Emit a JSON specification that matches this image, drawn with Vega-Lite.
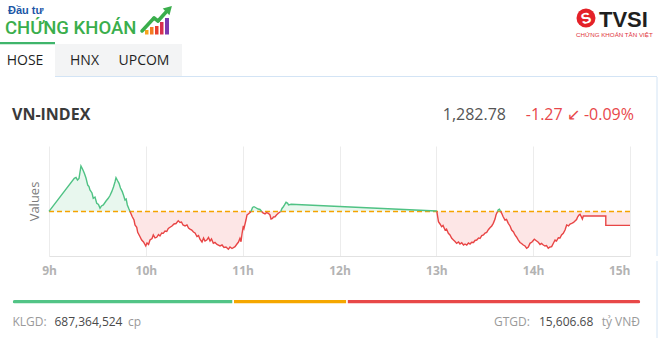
{
  "$schema": "https://vega.github.io/schema/vega-lite/v6.json",
  "padding": 0,
  "autosize": {"type": "pad"},
  "background": "white",
  "spacing": 0,
  "bounds": "flush",
  "data": {"values": [{}]},
  "config": {"view": {"stroke": null}, "text": {"font": "Open Sans"}},
  "datasets": {
    "series": [
      {"t":9.000,"v":1284.05,"s":1,"d":"up"},{"t":9.261,"v":1287.06,"s":1,"d":"up"},{"t":9.279,"v":1287.14,"s":1,"d":"up"},{"t":9.294,"v":1286.91,"s":1,"d":"up"},{"t":9.310,"v":1287.05,"s":1,"d":"up"},{"t":9.330,"v":1288.18,"s":1,"d":"up"},{"t":9.346,"v":1287.91,"s":1,"d":"up"},{"t":9.365,"v":1287.52,"s":1,"d":"up"},{"t":9.382,"v":1287.09,"s":1,"d":"up"},{"t":9.400,"v":1286.45,"s":1,"d":"up"},{"t":9.413,"v":1286.32,"s":1,"d":"up"},{"t":9.423,"v":1286.00,"s":1,"d":"up"},{"t":9.444,"v":1285.73,"s":1,"d":"up"},{"t":9.457,"v":1285.25,"s":1,"d":"up"},{"t":9.475,"v":1285.36,"s":1,"d":"up"},{"t":9.493,"v":1284.79,"s":1,"d":"up"},{"t":9.511,"v":1284.68,"s":1,"d":"up"},{"t":9.527,"v":1284.34,"s":1,"d":"up"},{"t":9.542,"v":1284.55,"s":1,"d":"up"},{"t":9.561,"v":1284.64,"s":1,"d":"up"},{"t":9.589,"v":1285.00,"s":1,"d":"up"},{"t":9.612,"v":1285.25,"s":1,"d":"up"},{"t":9.630,"v":1285.50,"s":1,"d":"up"},{"t":9.648,"v":1285.85,"s":1,"d":"up"},{"t":9.666,"v":1286.27,"s":1,"d":"up"},{"t":9.682,"v":1286.75,"s":1,"d":"up"},{"t":9.692,"v":1287.12,"s":1,"d":"up"},{"t":9.707,"v":1286.86,"s":1,"d":"up"},{"t":9.723,"v":1286.61,"s":1,"d":"up"},{"t":9.738,"v":1286.18,"s":1,"d":"up"},{"t":9.757,"v":1285.85,"s":1,"d":"up"},{"t":9.769,"v":1285.55,"s":1,"d":"up"},{"t":9.785,"v":1285.09,"s":1,"d":"up"},{"t":9.797,"v":1285.18,"s":1,"d":"up"},{"t":9.809,"v":1284.64,"s":1,"d":"up"},{"t":9.826,"v":1284.27,"s":1,"d":"up"},{"t":9.837,"v":1284.05,"s":1,"d":"up"},
      {"t":9.837,"v":1284.05,"s":2,"d":"down"},{"t":9.860,"v":1283.57,"s":2,"d":"down"},{"t":9.878,"v":1283.27,"s":2,"d":"down"},{"t":9.888,"v":1282.82,"s":2,"d":"down"},{"t":9.906,"v":1282.61,"s":2,"d":"down"},{"t":9.916,"v":1282.15,"s":2,"d":"down"},{"t":9.940,"v":1281.75,"s":2,"d":"down"},{"t":9.957,"v":1281.45,"s":2,"d":"down"},{"t":9.976,"v":1281.27,"s":2,"d":"down"},{"t":9.999,"v":1280.91,"s":2,"d":"down"},{"t":10.012,"v":1281.18,"s":2,"d":"down"},{"t":10.028,"v":1281.05,"s":2,"d":"down"},{"t":10.043,"v":1281.45,"s":2,"d":"down"},{"t":10.064,"v":1281.59,"s":2,"d":"down"},{"t":10.077,"v":1281.91,"s":2,"d":"down"},{"t":10.095,"v":1281.64,"s":2,"d":"down"},{"t":10.112,"v":1281.70,"s":2,"d":"down"},{"t":10.131,"v":1281.95,"s":2,"d":"down"},{"t":10.146,"v":1281.82,"s":2,"d":"down"},{"t":10.164,"v":1282.09,"s":2,"d":"down"},{"t":10.180,"v":1282.06,"s":2,"d":"down"},{"t":10.198,"v":1282.27,"s":2,"d":"down"},{"t":10.216,"v":1282.23,"s":2,"d":"down"},{"t":10.232,"v":1282.50,"s":2,"d":"down"},{"t":10.250,"v":1282.61,"s":2,"d":"down"},{"t":10.270,"v":1282.73,"s":2,"d":"down"},{"t":10.291,"v":1282.91,"s":2,"d":"down"},{"t":10.312,"v":1282.95,"s":2,"d":"down"},{"t":10.335,"v":1283.21,"s":2,"d":"down"},{"t":10.353,"v":1283.05,"s":2,"d":"down"},{"t":10.368,"v":1283.09,"s":2,"d":"down"},{"t":10.384,"v":1282.82,"s":2,"d":"down"},{"t":10.405,"v":1282.73,"s":2,"d":"down"},{"t":10.425,"v":1282.82,"s":2,"d":"down"},{"t":10.441,"v":1282.55,"s":2,"d":"down"},{"t":10.456,"v":1282.45,"s":2,"d":"down"},{"t":10.474,"v":1282.36,"s":2,"d":"down"},{"t":10.492,"v":1282.18,"s":2,"d":"down"},{"t":10.508,"v":1282.09,"s":2,"d":"down"},{"t":10.528,"v":1281.77,"s":2,"d":"down"},{"t":10.544,"v":1281.86,"s":2,"d":"down"},{"t":10.559,"v":1281.52,"s":2,"d":"down"},{"t":10.580,"v":1281.27,"s":2,"d":"down"},{"t":10.596,"v":1281.64,"s":2,"d":"down"},{"t":10.611,"v":1281.36,"s":2,"d":"down"},{"t":10.629,"v":1281.45,"s":2,"d":"down"},{"t":10.647,"v":1281.68,"s":2,"d":"down"},{"t":10.663,"v":1281.36,"s":2,"d":"down"},{"t":10.678,"v":1281.55,"s":2,"d":"down"},{"t":10.697,"v":1281.15,"s":2,"d":"down"},{"t":10.714,"v":1281.23,"s":2,"d":"down"},{"t":10.735,"v":1281.05,"s":2,"d":"down"},{"t":10.766,"v":1280.91,"s":2,"d":"down"},{"t":10.787,"v":1281.00,"s":2,"d":"down"},{"t":10.807,"v":1280.77,"s":2,"d":"down"},{"t":10.828,"v":1280.82,"s":2,"d":"down"},{"t":10.852,"v":1280.61,"s":2,"d":"down"},{"t":10.869,"v":1280.82,"s":2,"d":"down"},{"t":10.890,"v":1280.68,"s":2,"d":"down"},{"t":10.921,"v":1280.85,"s":2,"d":"down"},{"t":10.941,"v":1281.09,"s":2,"d":"down"},{"t":10.957,"v":1281.27,"s":2,"d":"down"},{"t":10.972,"v":1281.61,"s":2,"d":"down"},{"t":10.983,"v":1281.30,"s":2,"d":"down"},{"t":10.993,"v":1282.00,"s":2,"d":"down"},{"t":11.007,"v":1282.73,"s":2,"d":"down"},{"t":11.014,"v":1282.52,"s":2,"d":"down"},{"t":11.034,"v":1283.27,"s":2,"d":"down"},{"t":11.045,"v":1283.73,"s":2,"d":"down"},{"t":11.058,"v":1283.82,"s":2,"d":"down"},{"t":11.076,"v":1283.95,"s":2,"d":"down"},{"t":11.086,"v":1284.05,"s":2,"d":"down"},
      {"t":11.086,"v":1284.05,"s":3,"d":"up"},{"t":11.102,"v":1284.41,"s":3,"d":"up"},{"t":11.117,"v":1284.48,"s":3,"d":"up"},{"t":11.133,"v":1284.41,"s":3,"d":"up"},{"t":11.148,"v":1284.32,"s":3,"d":"up"},{"t":11.161,"v":1284.27,"s":3,"d":"up"},{"t":11.179,"v":1284.23,"s":3,"d":"up"},{"t":11.197,"v":1284.05,"s":3,"d":"up"},
      {"t":11.197,"v":1284.05,"s":4,"d":"down"},{"t":11.210,"v":1283.91,"s":4,"d":"down"},{"t":11.231,"v":1283.82,"s":4,"d":"down"},{"t":11.246,"v":1283.95,"s":4,"d":"down"},{"t":11.265,"v":1283.88,"s":4,"d":"down"},{"t":11.282,"v":1283.73,"s":4,"d":"down"},{"t":11.293,"v":1283.36,"s":4,"d":"down"},{"t":11.308,"v":1283.41,"s":4,"d":"down"},{"t":11.318,"v":1283.55,"s":4,"d":"down"},{"t":11.334,"v":1283.57,"s":4,"d":"down"},{"t":11.349,"v":1283.73,"s":4,"d":"down"},{"t":11.368,"v":1283.88,"s":4,"d":"down"},{"t":11.393,"v":1284.05,"s":4,"d":"down"},
      {"t":11.393,"v":1284.05,"s":5,"d":"up"},{"t":11.406,"v":1284.32,"s":5,"d":"up"},{"t":11.420,"v":1284.48,"s":5,"d":"up"},{"t":11.432,"v":1284.64,"s":5,"d":"up"},{"t":11.448,"v":1284.88,"s":5,"d":"up"},{"t":11.465,"v":1284.79,"s":5,"d":"up"},{"t":11.473,"v":1284.64,"s":5,"d":"up"},{"t":11.500,"v":1284.70,"s":5,"d":"up"},{"t":13.000,"v":1284.09,"s":5,"d":"up"},{"t":13.005,"v":1284.05,"s":5,"d":"up"},
      {"t":13.005,"v":1284.05,"s":6,"d":"down"},{"t":13.022,"v":1283.12,"s":6,"d":"down"},{"t":13.038,"v":1282.91,"s":6,"d":"down"},{"t":13.055,"v":1282.66,"s":6,"d":"down"},{"t":13.069,"v":1282.77,"s":6,"d":"down"},{"t":13.090,"v":1282.36,"s":6,"d":"down"},{"t":13.105,"v":1282.45,"s":6,"d":"down"},{"t":13.124,"v":1282.06,"s":6,"d":"down"},{"t":13.141,"v":1281.91,"s":6,"d":"down"},{"t":13.159,"v":1281.61,"s":6,"d":"down"},{"t":13.177,"v":1281.45,"s":6,"d":"down"},{"t":13.193,"v":1281.32,"s":6,"d":"down"},{"t":13.210,"v":1281.15,"s":6,"d":"down"},{"t":13.229,"v":1281.27,"s":6,"d":"down"},{"t":13.244,"v":1281.09,"s":6,"d":"down"},{"t":13.262,"v":1281.21,"s":6,"d":"down"},{"t":13.281,"v":1281.00,"s":6,"d":"down"},{"t":13.296,"v":1281.09,"s":6,"d":"down"},{"t":13.314,"v":1281.00,"s":6,"d":"down"},{"t":13.332,"v":1281.18,"s":6,"d":"down"},{"t":13.348,"v":1281.09,"s":6,"d":"down"},{"t":13.365,"v":1281.25,"s":6,"d":"down"},{"t":13.384,"v":1281.23,"s":6,"d":"down"},{"t":13.399,"v":1281.41,"s":6,"d":"down"},{"t":13.417,"v":1281.45,"s":6,"d":"down"},{"t":13.436,"v":1281.64,"s":6,"d":"down"},{"t":13.451,"v":1281.59,"s":6,"d":"down"},{"t":13.469,"v":1281.85,"s":6,"d":"down"},{"t":13.487,"v":1281.91,"s":6,"d":"down"},{"t":13.503,"v":1282.09,"s":6,"d":"down"},{"t":13.520,"v":1282.15,"s":6,"d":"down"},{"t":13.539,"v":1282.41,"s":6,"d":"down"},{"t":13.554,"v":1282.57,"s":6,"d":"down"},{"t":13.572,"v":1282.73,"s":6,"d":"down"},{"t":13.588,"v":1282.97,"s":6,"d":"down"},{"t":13.606,"v":1283.36,"s":6,"d":"down"},{"t":13.616,"v":1283.73,"s":6,"d":"down"},{"t":13.632,"v":1284.05,"s":6,"d":"down"},
      {"t":13.632,"v":1284.05,"s":7,"d":"up"},{"t":13.640,"v":1284.21,"s":7,"d":"up"},{"t":13.652,"v":1284.25,"s":7,"d":"up"},{"t":13.663,"v":1284.05,"s":7,"d":"up"},
      {"t":13.663,"v":1284.05,"s":8,"d":"down"},{"t":13.675,"v":1283.88,"s":8,"d":"down"},{"t":13.689,"v":1283.59,"s":8,"d":"down"},{"t":13.709,"v":1283.27,"s":8,"d":"down"},{"t":13.725,"v":1283.32,"s":8,"d":"down"},{"t":13.743,"v":1282.97,"s":8,"d":"down"},{"t":13.761,"v":1282.73,"s":8,"d":"down"},{"t":13.778,"v":1282.36,"s":8,"d":"down"},{"t":13.797,"v":1282.18,"s":8,"d":"down"},{"t":13.812,"v":1281.91,"s":8,"d":"down"},{"t":13.828,"v":1281.73,"s":8,"d":"down"},{"t":13.847,"v":1281.45,"s":8,"d":"down"},{"t":13.864,"v":1281.23,"s":8,"d":"down"},{"t":13.880,"v":1281.14,"s":8,"d":"down"},{"t":13.898,"v":1281.00,"s":8,"d":"down"},{"t":13.916,"v":1280.91,"s":8,"d":"down"},{"t":13.933,"v":1280.70,"s":8,"d":"down"},{"t":13.950,"v":1280.82,"s":8,"d":"down"},{"t":13.967,"v":1281.15,"s":8,"d":"down"},{"t":13.988,"v":1281.27,"s":8,"d":"down"},{"t":14.012,"v":1281.52,"s":8,"d":"down"},{"t":14.029,"v":1281.41,"s":8,"d":"down"},{"t":14.053,"v":1281.25,"s":8,"d":"down"},{"t":14.071,"v":1281.05,"s":8,"d":"down"},{"t":14.086,"v":1281.14,"s":8,"d":"down"},{"t":14.105,"v":1281.00,"s":8,"d":"down"},{"t":14.122,"v":1280.91,"s":8,"d":"down"},{"t":14.138,"v":1280.95,"s":8,"d":"down"},{"t":14.156,"v":1280.70,"s":8,"d":"down"},{"t":14.174,"v":1280.82,"s":8,"d":"down"},{"t":14.191,"v":1280.85,"s":8,"d":"down"},{"t":14.210,"v":1281.18,"s":8,"d":"down"},{"t":14.226,"v":1281.45,"s":8,"d":"down"},{"t":14.241,"v":1281.36,"s":8,"d":"down"},{"t":14.260,"v":1281.66,"s":8,"d":"down"},{"t":14.277,"v":1281.64,"s":8,"d":"down"},{"t":14.293,"v":1281.91,"s":8,"d":"down"},{"t":14.311,"v":1282.06,"s":8,"d":"down"},{"t":14.329,"v":1282.36,"s":8,"d":"down"},{"t":14.346,"v":1282.82,"s":8,"d":"down"},{"t":14.365,"v":1282.73,"s":8,"d":"down"},{"t":14.381,"v":1282.91,"s":8,"d":"down"},{"t":14.398,"v":1282.97,"s":8,"d":"down"},{"t":14.417,"v":1283.05,"s":8,"d":"down"},{"t":14.432,"v":1283.18,"s":8,"d":"down"},{"t":14.448,"v":1283.32,"s":8,"d":"down"},{"t":14.460,"v":1283.57,"s":8,"d":"down"},{"t":14.473,"v":1283.73,"s":8,"d":"down"},{"t":14.484,"v":1283.79,"s":8,"d":"down"},{"t":14.496,"v":1283.59,"s":8,"d":"down"},{"t":14.508,"v":1283.36,"s":8,"d":"down"},{"t":14.518,"v":1283.64,"s":8,"d":"down"},{"t":14.750,"v":1283.64,"s":8,"d":"down"},{"t":14.750,"v":1282.78,"s":8,"d":"down"},{"t":15.000,"v":1282.78,"s":8,"d":"down"}
    ]
  },
  "vconcat": [
    {
      "width": 660,
      "height": 42,
      "layer": [
        {"mark": {"type": "text", "text": "Đầu tư", "align": "left", "baseline": "middle", "font": "Liberation Sans", "fontSize": 11, "fontWeight": "bold", "color": "#1b56a6"},
         "encoding": {"x": {"datum": 8, "type": "quantitative", "scale": {"domain": [0, 660], "nice": false, "zero": false}, "axis": null}, "y": {"datum": 11, "type": "quantitative", "scale": {"domain": [0, 42], "nice": false, "zero": false, "reverse": true}, "axis": null}}},
        {"mark": {"type": "text", "text": "CHỨNG KHOÁN", "align": "left", "baseline": "middle", "font": "Roboto", "fontSize": 18.5, "fontWeight": 500, "color": "#3aae4c"},
         "encoding": {"x": {"datum": 5, "type": "quantitative", "scale": {"domain": [0, 660], "nice": false, "zero": false}, "axis": null}, "y": {"datum": 27.5, "type": "quantitative", "scale": {"domain": [0, 42], "nice": false, "zero": false, "reverse": true}, "axis": null}}},
        {"mark": {"type": "rect", "color": "#f6a21e"}, "encoding": {"x": {"datum": 145, "type": "quantitative", "scale": {"domain": [0, 660], "nice": false, "zero": false}, "axis": null}, "x2": {"datum": 148.5}, "y": {"datum": 30, "type": "quantitative", "scale": {"domain": [0, 42], "nice": false, "zero": false, "reverse": true}, "axis": null}, "y2": {"datum": 34.5}}},
        {"mark": {"type": "rect", "color": "#f47b20"}, "encoding": {"x": {"datum": 150, "type": "quantitative", "scale": {"domain": [0, 660], "nice": false, "zero": false}, "axis": null}, "x2": {"datum": 153.5}, "y": {"datum": 27, "type": "quantitative", "scale": {"domain": [0, 42], "nice": false, "zero": false, "reverse": true}, "axis": null}, "y2": {"datum": 34.5}}},
        {"mark": {"type": "rect", "color": "#e8402f"}, "encoding": {"x": {"datum": 155, "type": "quantitative", "scale": {"domain": [0, 660], "nice": false, "zero": false}, "axis": null}, "x2": {"datum": 158.5}, "y": {"datum": 26, "type": "quantitative", "scale": {"domain": [0, 42], "nice": false, "zero": false, "reverse": true}, "axis": null}, "y2": {"datum": 34.5}}},
        {"mark": {"type": "rect", "color": "#d7304f"}, "encoding": {"x": {"datum": 160, "type": "quantitative", "scale": {"domain": [0, 660], "nice": false, "zero": false}, "axis": null}, "x2": {"datum": 163.5}, "y": {"datum": 22, "type": "quantitative", "scale": {"domain": [0, 42], "nice": false, "zero": false, "reverse": true}, "axis": null}, "y2": {"datum": 34.5}}},
        {"mark": {"type": "rect", "color": "#7a3ab0"}, "encoding": {"x": {"datum": 165, "type": "quantitative", "scale": {"domain": [0, 660], "nice": false, "zero": false}, "axis": null}, "x2": {"datum": 169}, "y": {"datum": 18, "type": "quantitative", "scale": {"domain": [0, 42], "nice": false, "zero": false, "reverse": true}, "axis": null}, "y2": {"datum": 34.5}}},
        {"mark": {"type": "rule", "color": "#3aae4c", "strokeWidth": 3.5, "strokeCap": "round"}, "encoding": {"x": {"datum": 142, "type": "quantitative", "scale": {"domain": [0, 660], "nice": false, "zero": false}, "axis": null}, "x2": {"datum": 154}, "y": {"datum": 31, "type": "quantitative", "scale": {"domain": [0, 42], "nice": false, "zero": false, "reverse": true}, "axis": null}, "y2": {"datum": 18}}},
        {"mark": {"type": "rule", "color": "#3aae4c", "strokeWidth": 3.5, "strokeCap": "round"}, "encoding": {"x": {"datum": 154, "type": "quantitative", "scale": {"domain": [0, 660], "nice": false, "zero": false}, "axis": null}, "x2": {"datum": 158}, "y": {"datum": 18, "type": "quantitative", "scale": {"domain": [0, 42], "nice": false, "zero": false, "reverse": true}, "axis": null}, "y2": {"datum": 21}}},
        {"mark": {"type": "rule", "color": "#3aae4c", "strokeWidth": 3.5, "strokeCap": "round"}, "encoding": {"x": {"datum": 158, "type": "quantitative", "scale": {"domain": [0, 660], "nice": false, "zero": false}, "axis": null}, "x2": {"datum": 167}, "y": {"datum": 21, "type": "quantitative", "scale": {"domain": [0, 42], "nice": false, "zero": false, "reverse": true}, "axis": null}, "y2": {"datum": 11}}},
        {"mark": {"type": "point", "shape": "triangle-up", "filled": true, "color": "#3aae4c", "opacity": 1, "size": 90, "angle": 45}, "encoding": {"x": {"datum": 169, "type": "quantitative", "scale": {"domain": [0, 660], "nice": false, "zero": false}, "axis": null}, "y": {"datum": 9, "type": "quantitative", "scale": {"domain": [0, 42], "nice": false, "zero": false, "reverse": true}, "axis": null}}},
        {"mark": {"type": "point", "shape": "circle", "filled": true, "color": "#e42128", "opacity": 1, "size": 360}, "encoding": {"x": {"datum": 586, "type": "quantitative", "scale": {"domain": [0, 660], "nice": false, "zero": false}, "axis": null}, "y": {"datum": 18, "type": "quantitative", "scale": {"domain": [0, 42], "nice": false, "zero": false, "reverse": true}, "axis": null}}},
        {"mark": {"type": "text", "text": "S", "align": "center", "baseline": "middle", "font": "Liberation Sans", "fontSize": 15, "fontWeight": "bold", "color": "white", "angle": -15}, "encoding": {"x": {"datum": 586, "type": "quantitative", "scale": {"domain": [0, 660], "nice": false, "zero": false}, "axis": null}, "y": {"datum": 18.5, "type": "quantitative", "scale": {"domain": [0, 42], "nice": false, "zero": false, "reverse": true}, "axis": null}}},
        {"mark": {"type": "text", "text": "TVSI", "align": "left", "baseline": "middle", "font": "Liberation Sans", "fontSize": 22, "fontWeight": "bold", "color": "#1f1f1f"}, "encoding": {"x": {"datum": 599, "type": "quantitative", "scale": {"domain": [0, 660], "nice": false, "zero": false}, "axis": null}, "y": {"datum": 19.5, "type": "quantitative", "scale": {"domain": [0, 42], "nice": false, "zero": false, "reverse": true}, "axis": null}}},
        {"mark": {"type": "text", "text": "CHỨNG KHOÁN TÂN VIỆT", "align": "left", "baseline": "middle", "font": "Liberation Sans", "fontSize": 6.2, "color": "#e0333a"}, "encoding": {"x": {"datum": 576, "type": "quantitative", "scale": {"domain": [0, 660], "nice": false, "zero": false}, "axis": null}, "y": {"datum": 34.5, "type": "quantitative", "scale": {"domain": [0, 42], "nice": false, "zero": false, "reverse": true}, "axis": null}}}
      ]
    },
    {
      "width": 660,
      "height": 35,
      "resolve": {"scale": {"x": "independent"}},
      "layer": [
        {"mark": {"type": "rect", "color": "#f3f4f5"}, "encoding": {"x": {"datum": 55, "type": "quantitative", "scale": {"domain": [0, 660], "nice": false, "zero": false}, "axis": null}, "x2": {"datum": 182}, "y": {"datum": 2, "type": "quantitative", "scale": {"domain": [0, 35], "nice": false, "zero": false, "reverse": true}, "axis": null}, "y2": {"datum": 34.5}}},
        {"mark": {"type": "rect", "color": "#3fb56b"}, "encoding": {"x": {"datum": 0, "type": "quantitative", "scale": {"domain": [0, 660], "nice": false, "zero": false}, "axis": null}, "x2": {"datum": 55}, "y": {"datum": 0, "type": "quantitative", "scale": {"domain": [0, 35], "nice": false, "zero": false, "reverse": true}, "axis": null}, "y2": {"datum": 2.3}}},
        {"mark": {"type": "rule", "color": "#d3e4f5", "strokeWidth": 1}, "encoding": {"x": {"datum": 55, "type": "quantitative", "scale": {"domain": [0, 660], "nice": false, "zero": false}, "axis": null}, "x2": {"datum": 657}, "y": {"datum": 34.5, "type": "quantitative", "scale": {"domain": [0, 35], "nice": false, "zero": false, "reverse": true}, "axis": null}}},
        {"data": {"values": [{"tab": "HOSE"}, {"tab": "HNX"}, {"tab": "UPCOM"}]},
         "mark": {"type": "text", "align": "center", "baseline": "middle", "font": "Open Sans", "fontSize": 14, "color": "#1f1f1f"},
         "encoding": {"x": {"field": "tab", "type": "nominal", "scale": {"type": "point", "domain": ["HOSE", "HNX", "UPCOM"], "range": [25, 144], "padding": 0}, "axis": null}, "y": {"datum": 19, "type": "quantitative", "scale": {"domain": [0, 35], "nice": false, "zero": false, "reverse": true}, "axis": null}, "text": {"field": "tab"}}}
      ]
    },
    {
      "width": 660,
      "height": 69,
      "layer": [
        {"mark": {"type": "text", "text": "VN-INDEX", "align": "left", "baseline": "middle", "font": "Open Sans", "fontSize": 16, "fontWeight": "bold", "color": "#3a3a3a"}, "encoding": {"x": {"datum": 12, "type": "quantitative", "scale": {"domain": [0, 660], "nice": false, "zero": false}, "axis": null}, "y": {"datum": 38, "type": "quantitative", "scale": {"domain": [0, 69], "nice": false, "zero": false, "reverse": true}, "axis": null}}},
        {"mark": {"type": "text", "text": "1,282.78", "align": "right", "baseline": "middle", "font": "Open Sans", "fontSize": 16, "color": "#555555"}, "encoding": {"x": {"datum": 506, "type": "quantitative", "scale": {"domain": [0, 660], "nice": false, "zero": false}, "axis": null}, "y": {"datum": 38, "type": "quantitative", "scale": {"domain": [0, 69], "nice": false, "zero": false, "reverse": true}, "axis": null}}},
        {"mark": {"type": "text", "text": "-1.27 ↙ -0.09%", "align": "right", "baseline": "middle", "font": "Open Sans", "fontSize": 16, "color": "#e8474b"}, "encoding": {"x": {"datum": 634, "type": "quantitative", "scale": {"domain": [0, 660], "nice": false, "zero": false}, "axis": null}, "y": {"datum": 38, "type": "quantitative", "scale": {"domain": [0, 69], "nice": false, "zero": false, "reverse": true}, "axis": null}}},
        {"mark": {"type": "rule", "color": "#d3e4f5", "strokeWidth": 1}, "encoding": {"x": {"datum": 657, "type": "quantitative", "scale": {"domain": [0, 660], "nice": false, "zero": false}, "axis": null}, "y": {"datum": 0, "type": "quantitative", "scale": {"domain": [0, 69], "nice": false, "zero": false, "reverse": true}, "axis": null}, "y2": {"datum": 69}}}
      ]
    },
    {
      "width": 660,
      "height": 110,
      "layer": [
        {"data": {"name": "series"},
         "mark": {"type": "area", "opacity": 1},
         "encoding": {
           "x": {"field": "t", "type": "quantitative", "scale": {"domain": [9, 15], "range": [49, 630], "nice": false, "zero": false},
                 "axis": {"values": [9, 10, 11, 12, 13, 14, 15], "labelExpr": "datum.value + 'h'", "title": null, "grid": true, "gridColor": "#ececec", "domain": true, "domainColor": "#e2e2e2", "ticks": false, "labelPadding": 9, "labelColor": "#b3b3b3", "labelFont": "Open Sans", "labelFontSize": 12, "labelFontWeight": "bold", "labelOverlap": false, "labelAlign": {"condition": {"test": "datum.value === 15", "value": "right"}, "value": "center"}}},
           "y": {"field": "v", "type": "quantitative", "scale": {"domain": [1280, 1290], "nice": false, "zero": false},
                 "axis": {"title": "Values", "labels": false, "ticks": false, "domain": false, "grid": false, "offset": -49, "titlePadding": 8, "titleFont": "Open Sans", "titleFontSize": 13, "titleFontWeight": "normal", "titleColor": "#7d7d7d"}},
           "y2": {"datum": 1284.05},
           "fill": {"field": "d", "type": "nominal", "scale": {"domain": ["up", "down"], "range": ["#e8f7ee", "#fde6e6"]}, "legend": null},
           "detail": {"field": "s", "type": "nominal"}
         }},
        {"mark": {"type": "rule", "color": "#f5a300", "strokeWidth": 1.6, "strokeDash": [5, 3]},
         "encoding": {"x": {"datum": 9}, "x2": {"datum": 15}, "y": {"datum": 1284.05}}},
        {"data": {"name": "series"},
         "mark": {"type": "line", "strokeWidth": 1.4},
         "encoding": {
           "x": {"field": "t", "type": "quantitative"},
           "y": {"field": "v", "type": "quantitative"},
           "stroke": {"field": "d", "type": "nominal", "scale": {"domain": ["up", "down"], "range": ["#4fc284", "#e84545"]}, "legend": null},
           "detail": {"field": "s", "type": "nominal"}
         }},
        {"mark": {"type": "rule", "color": "#d3e4f5", "strokeWidth": 1},
         "encoding": {"x": {"datum": 15.279}, "y": {"datum": 1280}, "y2": {"datum": 1290}}}
      ]
    },
    {
      "width": 660,
      "height": 87,
      "resolve": {"scale": {"x": "independent"}},
      "layer": [
        {"data": {"values": [{"g": "up", "n": 140, "r": 1}, {"g": "flat", "n": 72, "r": 2}, {"g": "down", "n": 186, "r": 3}]},
         "mark": {"type": "bar", "orient": "horizontal", "cornerRadius": 2.5, "stroke": "white", "strokeWidth": 1.5},
         "encoding": {
           "x": {"field": "n", "type": "quantitative", "stack": "zero", "scale": {"domain": [0, 398], "range": [12, 641], "nice": false, "zero": false}, "axis": null},
           "y": {"datum": 43.3, "type": "quantitative", "scale": {"domain": [0, 87], "nice": false, "zero": false, "reverse": true}, "axis": null},
           "y2": {"datum": 49},
           "color": {"field": "g", "type": "nominal", "scale": {"domain": ["up", "flat", "down"], "range": ["#52c486", "#f5a700", "#e84848"]}, "legend": null},
           "order": {"field": "r", "type": "quantitative"}
         }},
        {"mark": {"type": "text", "text": "KLGD:", "align": "left", "baseline": "middle", "font": "Open Sans", "fontSize": 12, "color": "#9a9a9a"}, "encoding": {"x": {"datum": 12.5, "type": "quantitative", "scale": {"domain": [0, 660], "nice": false, "zero": false}, "axis": null}, "y": {"datum": 69, "type": "quantitative", "scale": {"domain": [0, 87], "nice": false, "zero": false, "reverse": true}, "axis": null}}},
        {"mark": {"type": "text", "text": "687,364,524", "align": "left", "baseline": "middle", "font": "Open Sans", "fontSize": 12, "color": "#4a4a4a"}, "encoding": {"x": {"datum": 54.5, "type": "quantitative", "scale": {"domain": [0, 660], "nice": false, "zero": false}, "axis": null}, "y": {"datum": 69, "type": "quantitative", "scale": {"domain": [0, 87], "nice": false, "zero": false, "reverse": true}, "axis": null}}},
        {"mark": {"type": "text", "text": "cp", "align": "left", "baseline": "middle", "font": "Open Sans", "fontSize": 12, "color": "#9a9a9a"}, "encoding": {"x": {"datum": 128, "type": "quantitative", "scale": {"domain": [0, 660], "nice": false, "zero": false}, "axis": null}, "y": {"datum": 69, "type": "quantitative", "scale": {"domain": [0, 87], "nice": false, "zero": false, "reverse": true}, "axis": null}}},
        {"mark": {"type": "text", "text": "GTGD:", "align": "left", "baseline": "middle", "font": "Open Sans", "fontSize": 12, "color": "#9a9a9a"}, "encoding": {"x": {"datum": 494, "type": "quantitative", "scale": {"domain": [0, 660], "nice": false, "zero": false}, "axis": null}, "y": {"datum": 69, "type": "quantitative", "scale": {"domain": [0, 87], "nice": false, "zero": false, "reverse": true}, "axis": null}}},
        {"mark": {"type": "text", "text": "15,606.68", "align": "left", "baseline": "middle", "font": "Open Sans", "fontSize": 12, "color": "#4a4a4a"}, "encoding": {"x": {"datum": 539, "type": "quantitative", "scale": {"domain": [0, 660], "nice": false, "zero": false}, "axis": null}, "y": {"datum": 69, "type": "quantitative", "scale": {"domain": [0, 87], "nice": false, "zero": false, "reverse": true}, "axis": null}}},
        {"mark": {"type": "text", "text": "tỷ VNĐ", "align": "right", "baseline": "middle", "font": "Open Sans", "fontSize": 12, "color": "#9a9a9a"}, "encoding": {"x": {"datum": 640, "type": "quantitative", "scale": {"domain": [0, 660], "nice": false, "zero": false}, "axis": null}, "y": {"datum": 69, "type": "quantitative", "scale": {"domain": [0, 87], "nice": false, "zero": false, "reverse": true}, "axis": null}}},
        {"mark": {"type": "rule", "color": "#d3e4f5", "strokeWidth": 1}, "encoding": {"x": {"datum": 657, "type": "quantitative", "scale": {"domain": [0, 660], "nice": false, "zero": false}, "axis": null}, "y": {"datum": 0, "type": "quantitative", "scale": {"domain": [0, 87], "nice": false, "zero": false, "reverse": true}, "axis": null}, "y2": {"datum": 87}}}
      ]
    }
  ]
}
